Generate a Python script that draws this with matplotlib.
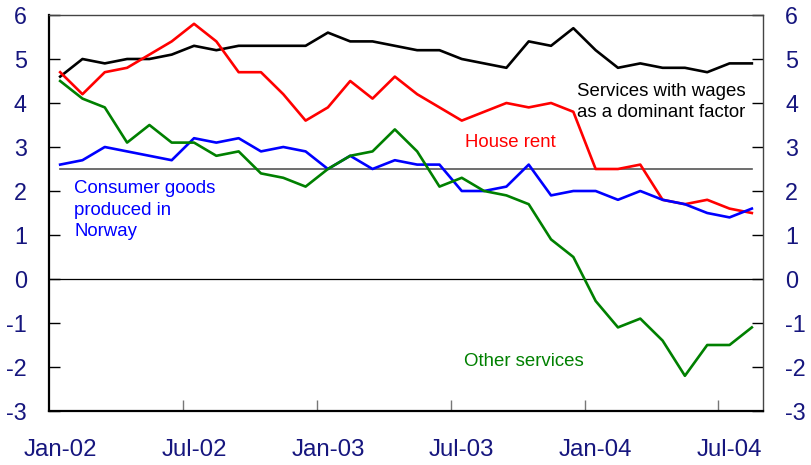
import matplotlib
matplotlib.use("Agg")
import matplotlib.pyplot as plt

plt.rcParams['font.family'] = ['Liberation Sans', 'DejaVu Sans']

months = ['Jan-02', 'Feb-02', 'Mar-02', 'Apr-02', 'May-02', 'Jun-02', 'Jul-02', 'Aug-02',
          'Sep-02', 'Oct-02', 'Nov-02', 'Dec-02', 'Jan-03', 'Feb-03', 'Mar-03', 'Apr-03',
          'May-03', 'Jun-03', 'Jul-03', 'Aug-03', 'Sep-03', 'Oct-03', 'Nov-03', 'Dec-03',
          'Jan-04', 'Feb-04', 'Mar-04', 'Apr-04', 'May-04', 'Jun-04', 'Jul-04', 'Aug-04']

services_wages = [4.6, 5.0, 4.9, 5.0, 5.0, 5.1, 5.3, 5.2, 5.3, 5.3, 5.3, 5.3,
                  5.6, 5.4, 5.4, 5.3, 5.2, 5.2, 5.0, 4.9, 4.8, 5.4, 5.3, 5.7,
                  5.2, 4.8, 4.9, 4.8, 4.8, 4.7, 4.9, 4.9]
house_rent = [4.7, 4.2, 4.7, 4.8, 5.1, 5.4, 5.8, 5.4, 4.7, 4.7, 4.2, 3.6,
              3.9, 4.5, 4.1, 4.6, 4.2, 3.9, 3.6, 3.8, 4.0, 3.9, 4.0, 3.8,
              2.5, 2.5, 2.6, 1.8, 1.7, 1.8, 1.6, 1.5]
consumer_goods = [2.6, 2.7, 3.0, 2.9, 2.8, 2.7, 3.2, 3.1, 3.2, 2.9, 3.0, 2.9,
                  2.5, 2.8, 2.5, 2.7, 2.6, 2.6, 2.0, 2.0, 2.1, 2.6, 1.9, 2.0,
                  2.0, 1.8, 2.0, 1.8, 1.7, 1.5, 1.4, 1.6]
other_services = [4.5, 4.1, 3.9, 3.1, 3.5, 3.1, 3.1, 2.8, 2.9, 2.4, 2.3, 2.1,
                  2.5, 2.8, 2.9, 3.4, 2.9, 2.1, 2.3, 2.0, 1.9, 1.7, 0.9, 0.5,
                  -0.5, -1.1, -0.9, -1.4, -2.2, -1.5, -1.5, -1.1]
target = [2.5] * len(months)

label_months = ['Jan-02', 'Jul-02', 'Jan-03', 'Jul-03', 'Jan-04', 'Jul-04']
yticks = [-3, -2, -1, 0, 1, 2, 3, 4, 5, 6]

navy = '#16167e'

fig = plt.figure(figsize=(8.11, 4.65), dpi=100)
ax = fig.add_axes([49/811, 1 - 411/465, (763 - 49)/811, (411 - 15)/465])

x = list(range(len(months)))
ax.axhline(0, color='black', lw=0.9, zorder=1)
ax.plot(x, target, color='#555555', lw=1.2, zorder=1)
ax.plot(x, services_wages, color='black', lw=1.9, zorder=3)
ax.plot(x, house_rent, color='#ff0000', lw=1.9, zorder=3)
ax.plot(x, consumer_goods, color='#0000ff', lw=1.9, zorder=3)
ax.plot(x, other_services, color='#008000', lw=1.9, zorder=3)

ax.set_xlim(-0.5, len(months) - 0.5)
ax.set_ylim(-3, 6)

# major ticks between categories, labels at category centres
boundaries = [i - 0.5 for i in range(6, len(months), 6)]
ax.set_xticks(boundaries)
ax.set_xticklabels([])
label_pos = [months.index(m) for m in label_months]
ax.set_xticks(label_pos, minor=True)
ax.set_xticklabels(label_months, minor=True)
ax.tick_params(axis='x', which='major', direction='in', length=8, width=1, color='#777777')
ax.tick_params(axis='x', which='minor', length=0, pad=20, labelsize=17.3, labelcolor=navy)

ax.set_yticks(yticks)
ax.set_yticklabels([str(v) for v in yticks])
ax.tick_params(axis='y', direction='in', length=8, width=1, left=True, right=True,
               labelleft=True, labelright=True, labelsize=16.8, labelcolor=navy, pad=16)

for s in ['left', 'bottom']:
    ax.spines[s].set_linewidth(1.6)
    ax.spines[s].set_color('black')
for s in ['top', 'right']:
    ax.spines[s].set_linewidth(1.0)
    ax.spines[s].set_color('#444444')


def fp(xp, yp):
    return (xp / 811, 1 - yp / 465)


fig.text(*fp(74, 210), 'Consumer goods\nproduced in\nNorway', color='#0000ff',
         fontsize=13.4, va='center', ha='left', linespacing=1.38)
fig.text(*fp(465, 142), 'House rent', color='#ff0000', fontsize=13.4, va='center', ha='left')
fig.text(*fp(577, 102), 'Services with wages\nas a dominant factor', color='black',
         fontsize=13.4, va='center', ha='left', linespacing=1.38)
fig.text(*fp(464, 361), 'Other services', color='#008000', fontsize=13.4, va='center', ha='left')

fig.savefig('out.png', dpi=100)
